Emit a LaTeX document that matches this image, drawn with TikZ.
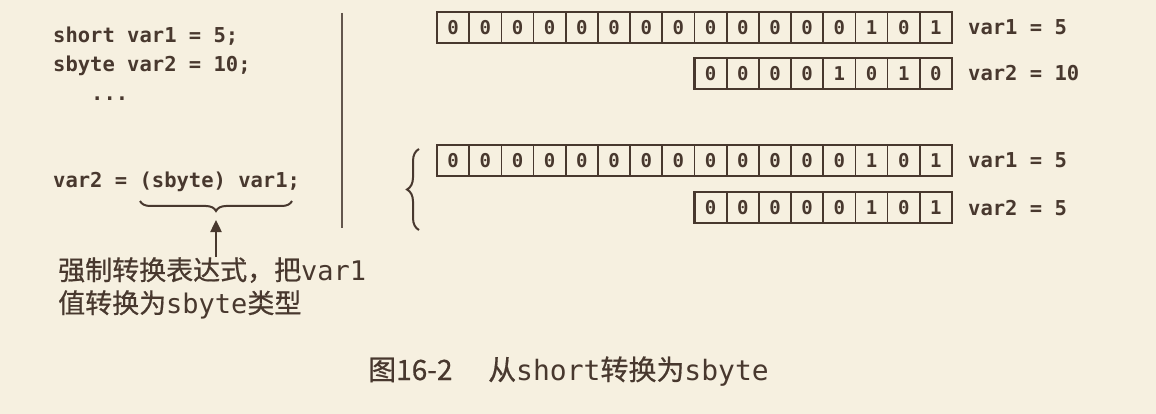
\documentclass[tikz,border=0pt]{standalone}
\usepackage{fontspec}
\usetikzlibrary{decorations.pathreplacing,arrows.meta}
\newfontfamily\codefont{DejaVu Sans Mono}
\newfontfamily\cjkfont[FakeBold=0.6]{Noto Sans CJK SC}
\definecolor{bg}{RGB}{246,240,224}
\definecolor{ink}{RGB}{72,56,46}
\tikzset{
  code/.style={anchor=base west, inner sep=0pt, text=ink, font=\codefont\bfseries\fontsize{20.5}{24}\selectfont},
  note/.style={anchor=base west, inner sep=0pt, text=ink, font=\cjkfont\fontsize{27}{32}\selectfont},
  capt/.style={anchor=base west, inner sep=0pt, text=ink, font=\cjkfont\fontsize{28}{32}\selectfont},
  frame/.style={draw=ink, line width=2.4pt, inner sep=0pt, minimum height=31pt},
  bit/.style={draw=ink, line width=1.7pt, inner sep=0pt, minimum width=32.1875pt, minimum height=31pt, text=ink, font=\codefont\bfseries\fontsize{19}{22}\selectfont},
  curly/.style={draw=ink, line width=2pt, decorate, decoration={brace, amplitude=#1}},
  sepline/.style={draw=ink!85, line width=1.3pt},
  arr/.style={draw=ink, line width=2.4pt, -{Triangle[length=12pt,width=11pt]}}
}
\begin{document}
\begin{tikzpicture}[x=1pt,y=-1pt]
\fill[bg] (0,0) rectangle (1156,414);
\useasboundingbox (0,0) rectangle (1156,414);

% code lines
\node[code] (l1) at (53,43) {short var1 = 5;};
\node[code] (l2) at (53,72) {sbyte var2 = 10;};
\node[code] (l3) at (91,101) {...};
\node[code] (l4) at (53,188) {var2 = (sbyte) var1;};

% brace under the cast
\coordinate (bl) at (140,201);
\coordinate (br) at (292,201);
\draw[curly=10pt] (br) -- (bl);
\coordinate (tip) at (216,220);

% note
\node[note] (n1) at (58,280) {强制转换表达式，把{\codefont var1}};
\node[note] (n2) at (58,313) {值转换为{\codefont sbyte}类型};
\draw[arr] (n1.north -| tip) -- (tip);

% separator
\coordinate (vt) at (342,13);
\coordinate (vb) at (342,228);
\draw[sepline] (vt) -- (vb);

% left brace
\coordinate (bb) at (419,230);
\coordinate (bt) at (419,149);
\draw[curly=12pt] (bb) -- (bt);

% bit rows
\foreach \b [count=\i] in {0,0,0,0,0,0,0,0,0,0,0,0,0,1,0,1}
  \node[bit] (ra\i) at ({437+(\i-0.5)*32.1875},27.5) {\b};
\node[frame, minimum width=515pt] (f1) at (694.5,27.5) {};
\node[code] (v1) at (968,35) {var1 = 5};

\foreach \b [count=\i] in {0,0,0,0,1,0,1,0}
  \node[bit] (rb\i) at ({694.5+(\i-0.5)*32.1875},73.5) {\b};
\node[frame, minimum width=257.5pt] (f2) at (823.25,73.5) {};
\node[code] (v2) at (968,81) {var2 = 10};

\foreach \b [count=\i] in {0,0,0,0,0,0,0,0,0,0,0,0,0,1,0,1}
  \node[bit] (rc\i) at ({437+(\i-0.5)*32.1875},160.5) {\b};
\node[frame, minimum width=515pt] (f3) at (694.5,160.5) {};
\node[code] (v3) at (968,168) {var1 = 5};

\foreach \b [count=\i] in {0,0,0,0,0,1,0,1}
  \node[bit] (rd\i) at ({694.5+(\i-0.5)*32.1875},207.5) {\b};
\node[frame, minimum width=257.5pt] (f4) at (823.25,207.5) {};
\node[code] (v4) at (968,215) {var2 = 5};

% caption
\node[capt] (c1) at (368,380) {图16-2};
\node[capt] (c2) at (488,380) {从{\codefont short}转换为{\codefont sbyte}};
\end{tikzpicture}
\end{document}
